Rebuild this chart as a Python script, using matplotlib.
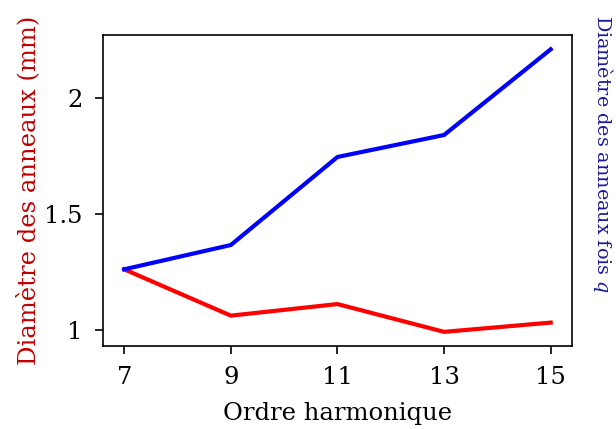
import matplotlib
matplotlib.use("Agg")
import matplotlib.pyplot as plt

# ------------------------
# Data
# ------------------------
ordre = [7, 9, 11, 13, 15]
diametre_mm = [1.26, 1.06, 1.11, 0.99, 1.03]
diametre_fois_q = [1.26, 1.365, 1.745, 1.84, 2.21]

yticks = [1, 1.5, 2]
ytick_labels = ["1", "1.5", "2"]

plt.rcParams['font.family'] = ['DejaVu Serif']
plt.rcParams['mathtext.fontset'] = 'dejavuserif'

fig = plt.figure(figsize=(6.16, 4.29), dpi=100)
ax = fig.add_axes([0.167, 0.1935, 0.7616, 0.7245])

ax.plot(ordre, diametre_mm, color='#ff0000', lw=3)
ax.plot(ordre, diametre_fois_q, color='#0000ff', lw=3)

ax.set_xticks(ordre)
ax.set_yticks(yticks)
ax.set_yticklabels(ytick_labels)
ax.tick_params(labelsize=17.5, length=6, width=1.2, pad=8.5)
for sp in ax.spines.values():
    sp.set_linewidth(1.2)

ax.set_xlabel("Ordre harmonique", fontsize=17.5, labelpad=9)
ax.set_ylabel("Diamètre des anneaux (mm)", fontsize=17.5, color='#c00000', labelpad=3)

# right-hand label (no ticks on that side)
ax.text(1.066, 1.064, "Diamètre des anneaux fois $q$", transform=ax.transAxes,
        rotation=-90, ha='center', va='top', fontsize=13.8, color='#1a1a9a')

fig.savefig("out.png", dpi=100)
